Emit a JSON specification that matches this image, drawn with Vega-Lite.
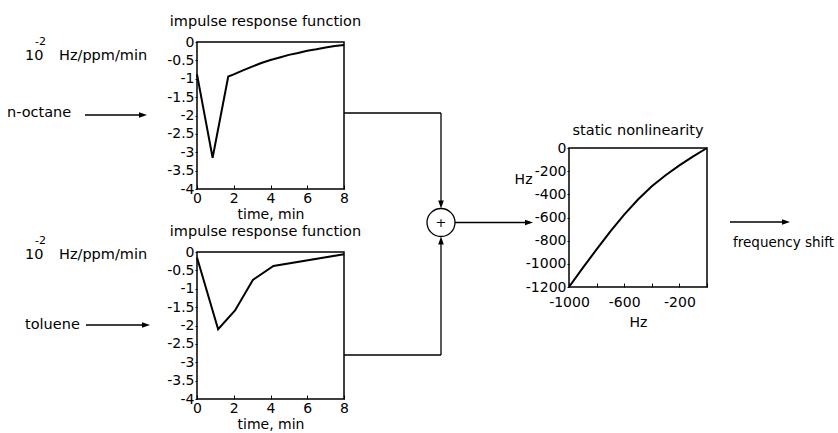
{
  "$schema": "https://vega.github.io/schema/vega-lite/v6.json",
  "padding": {"left": 0, "top": 12, "right": 0, "bottom": 0},
  "bounds": "flush",
  "align": "none",
  "columns": 5,
  "spacing": {"row": 63, "column": 0},
  "config": {
    "font": "DejaVu Sans",
    "view": {"stroke": null},
    "axis": {"grid": false, "domain": false, "labelFontSize": 14, "titleFontSize": 14, "titleFontWeight": "normal", "labelColor": "black", "titleColor": "black", "tickColor": "black", "labelFont": "DejaVu Sans", "titleFont": "DejaVu Sans", "labelFlush": false, "labelOverlap": false},
    "title": {"fontSize": 14.5, "fontWeight": "normal", "color": "black", "font": "DejaVu Sans"}
  },
  "concat": [
    {
      "width": 197, "height": 147,
      "encoding": {
        "x": {"field": "x", "type": "quantitative", "scale": {"domain": [0, 197], "nice": false, "zero": false}, "axis": null},
        "y": {"field": "y", "type": "quantitative", "scale": {"domain": [0, 147], "nice": false, "zero": false, "reverse": true}, "axis": null}
      },
      "layer": [
        {
          "data": {"values": [
            {"x": 25, "y": 14, "s": "10"},
            {"x": 59, "y": 14, "s": "Hz/ppm/min"},
            {"x": 7, "y": 71, "s": "n-octane"}
          ]},
          "mark": {"type": "text", "align": "left", "baseline": "middle", "fontSize": 14.5, "color": "black"},
          "encoding": {"text": {"field": "s"}}
        },
        {
          "data": {"values": [{"x": 35, "y": 0, "s": "-2"}]},
          "mark": {"type": "text", "align": "left", "baseline": "middle", "fontSize": 11, "color": "black"},
          "encoding": {"text": {"field": "s"}}
        },
        {
          "data": {"values": [{"x": 85, "x2": 144, "y": 73}]},
          "mark": {"type": "rule", "color": "black", "strokeWidth": 1.3},
          "encoding": {"x2": {"field": "x2"}}
        },
        {
          "data": {"values": [{"x": 143, "y": 73}]},
          "mark": {"type": "point", "filled": true, "color": "black", "opacity": 1, "size": 64, "shape": "M-1,-0.7L1,0L-1,0.7Z"}
        }
      ]
    },
    {
      "width": 147, "height": 147,
      "view": {"stroke": "black", "strokeWidth": 1.5},
      "title": {"text": "impulse response function", "offset": 6, "dx": -5},
      "data": {"values": [
        {"t": 0, "h": -0.88}, {"t": 0.85, "h": -3.15}, {"t": 1.7, "h": -0.94}, {"t": 2, "h": -0.88},
        {"t": 2.5, "h": -0.77}, {"t": 3, "h": -0.67}, {"t": 3.5, "h": -0.57}, {"t": 4, "h": -0.49},
        {"t": 4.5, "h": -0.42}, {"t": 5, "h": -0.35}, {"t": 5.5, "h": -0.3}, {"t": 6, "h": -0.24},
        {"t": 6.5, "h": -0.2}, {"t": 7, "h": -0.15}, {"t": 7.5, "h": -0.11}, {"t": 8, "h": -0.08}
      ]},
      "mark": {"type": "line", "color": "black", "strokeWidth": 2},
      "encoding": {
        "x": {"field": "t", "type": "quantitative", "scale": {"domain": [0, 8], "nice": false, "zero": false},
              "axis": {"values": [0, 2, 4, 6, 8], "title": "time, min", "tickSize": -4, "labelPadding": 6, "titlePadding": 2}},
        "y": {"field": "h", "type": "quantitative", "scale": {"domain": [-4, 0], "nice": false, "zero": false},
              "axis": {"values": [-4, -3.5, -3, -2.5, -2, -1.5, -1, -0.5, 0], "labelExpr": "'' + datum.value", "title": null, "tickSize": 2, "labelPadding": 1}}
      }
    },
    {
      "width": 225, "height": 147,
      "encoding": {
        "x": {"field": "x", "type": "quantitative", "scale": {"domain": [0, 225], "nice": false, "zero": false}, "axis": null},
        "y": {"field": "y", "type": "quantitative", "scale": {"domain": [0, 147], "nice": false, "zero": false, "reverse": true}, "axis": null}
      },
      "layer": [
        {
          "data": {"values": [
            {"x": 0, "y": 71, "x2": 97, "y2": 71},
            {"x": 97, "y": 71, "x2": 97, "y2": 163},
            {"x": 0, "y": 313, "x2": 97, "y2": 313},
            {"x": 97, "y": 313, "x2": 97, "y2": 198},
            {"x": 111, "y": 180.5, "x2": 186, "y2": 180.5}
          ]},
          "mark": {"type": "rule", "color": "black", "strokeWidth": 1.3},
          "encoding": {"x2": {"field": "x2"}, "y2": {"field": "y2"}}
        },
        {
          "data": {"values": [
            {"x": 97, "y": 162.5, "dir": "d"},
            {"x": 97, "y": 198.5, "dir": "u"},
            {"x": 185, "y": 180.5, "dir": "r"}
          ]},
          "mark": {"type": "point", "filled": true, "color": "black", "opacity": 1, "size": 64},
          "encoding": {"shape": {"field": "dir", "type": "nominal", "scale": {"domain": ["r", "d", "u"], "range": ["M-1,-0.7L1,0L-1,0.7Z", "M-0.7,-1L0.7,-1L0,1Z", "M-0.7,1L0.7,1L0,-1Z"]}, "legend": null}}
        },
        {
          "data": {"values": [{"x": 97, "y": 180.5}]},
          "mark": {"type": "point", "shape": "circle", "filled": false, "color": "black", "opacity": 1, "size": 784, "strokeWidth": 1.3}
        },
        {
          "data": {"values": [{"x": 97, "y": 180.5, "s": "+"}]},
          "mark": {"type": "text", "align": "center", "baseline": "middle", "fontSize": 13, "color": "black"},
          "encoding": {"text": {"field": "s"}}
        }
      ]
    },
    {
      "width": 138, "height": 147,
      "encoding": {
        "x": {"field": "u", "type": "quantitative", "scale": {"domain": [-1000, 0], "nice": false, "zero": false},
              "axis": {"values": [-1000, -800, -600, -400, -200, 0], "labelExpr": "datum.value == -1000 || datum.value == -600 || datum.value == -200 ? '' + datum.value : ''", "title": "Hz", "tickSize": -4, "labelPadding": 12, "titlePadding": 6, "offset": 98}},
        "y": {"field": "v", "type": "quantitative", "scale": {"domain": [-1200, 0], "nice": false, "zero": false, "range": [245, 106]},
              "axis": {"values": [-1200, -1000, -800, -600, -400, -200, 0], "labelExpr": "'' + datum.value", "title": "Hz", "titleAngle": 0, "titleAlign": "right", "titleBaseline": "middle", "titleX": -37, "titleY": 137, "tickSize": 2, "labelPadding": 1}}
      },
      "layer": [
        {
          "data": {"values": [
            {"u": -1000, "v": -1200}, {"u": -900, "v": -1035}, {"u": -800, "v": -875}, {"u": -700, "v": -720},
            {"u": -600, "v": -575}, {"u": -500, "v": -445}, {"u": -400, "v": -330}, {"u": -300, "v": -235},
            {"u": -200, "v": -150}, {"u": -100, "v": -72}, {"u": 0, "v": 0}
          ]},
          "mark": {"type": "line", "color": "black", "strokeWidth": 2}
        },
        {
          "data": {"values": [{"u": -1000, "u2": 0, "v": -1200, "v2": 0}]},
          "mark": {"type": "rect", "filled": false, "stroke": "black", "strokeWidth": 1.5},
          "encoding": {"x2": {"field": "u2"}, "y2": {"field": "v2"}}
        },
        {
          "data": {"values": [{"u": -500, "v": 0, "s": "static nonlinearity"}]},
          "mark": {"type": "text", "align": "center", "baseline": "alphabetic", "dy": -13, "fontSize": 14.5, "color": "black"},
          "encoding": {"text": {"field": "s"}}
        }
      ]
    },
    {
      "width": 131, "height": 147,
      "encoding": {
        "x": {"field": "x", "type": "quantitative", "scale": {"domain": [0, 131], "nice": false, "zero": false}, "axis": null},
        "y": {"field": "y", "type": "quantitative", "scale": {"domain": [0, 147], "nice": false, "zero": false, "reverse": true}, "axis": null}
      },
      "layer": [
        {
          "data": {"values": [{"x": 23, "x2": 80, "y": 180}]},
          "mark": {"type": "rule", "color": "black", "strokeWidth": 1.3},
          "encoding": {"x2": {"field": "x2"}}
        },
        {
          "data": {"values": [{"x": 79, "y": 180}]},
          "mark": {"type": "point", "filled": true, "color": "black", "opacity": 1, "size": 64, "shape": "M-1,-0.7L1,0L-1,0.7Z"}
        },
        {
          "data": {"values": [{"x": 26, "y": 205, "s": "frequency shift"}]},
          "mark": {"type": "text", "align": "left", "baseline": "alphabetic", "fontSize": 13.5, "color": "black"},
          "encoding": {"text": {"field": "s"}}
        }
      ]
    },
    {
      "width": 197, "height": 147,
      "encoding": {
        "x": {"field": "x", "type": "quantitative", "scale": {"domain": [0, 197], "nice": false, "zero": false}, "axis": null},
        "y": {"field": "y", "type": "quantitative", "scale": {"domain": [0, 147], "nice": false, "zero": false, "reverse": true}, "axis": null}
      },
      "layer": [
        {
          "data": {"values": [
            {"x": 25, "y": 3, "s": "10"},
            {"x": 59, "y": 3, "s": "Hz/ppm/min"},
            {"x": 25, "y": 73, "s": "toluene"}
          ]},
          "mark": {"type": "text", "align": "left", "baseline": "middle", "fontSize": 14.5, "color": "black"},
          "encoding": {"text": {"field": "s"}}
        },
        {
          "data": {"values": [{"x": 35, "y": -11, "s": "-2"}]},
          "mark": {"type": "text", "align": "left", "baseline": "middle", "fontSize": 11, "color": "black"},
          "encoding": {"text": {"field": "s"}}
        },
        {
          "data": {"values": [{"x": 86, "x2": 147, "y": 73}]},
          "mark": {"type": "rule", "color": "black", "strokeWidth": 1.3},
          "encoding": {"x2": {"field": "x2"}}
        },
        {
          "data": {"values": [{"x": 146, "y": 73}]},
          "mark": {"type": "point", "filled": true, "color": "black", "opacity": 1, "size": 64, "shape": "M-1,-0.7L1,0L-1,0.7Z"}
        }
      ]
    },
    {
      "width": 147, "height": 147,
      "view": {"stroke": "black", "strokeWidth": 1.5},
      "title": {"text": "impulse response function", "offset": 6, "dx": -5},
      "data": {"values": [
        {"t": 0, "h": -0.15}, {"t": 1.15, "h": -2.1}, {"t": 2.07, "h": -1.59},
        {"t": 3.04, "h": -0.76}, {"t": 4.16, "h": -0.38}, {"t": 8, "h": -0.06}
      ]},
      "mark": {"type": "line", "color": "black", "strokeWidth": 2},
      "encoding": {
        "x": {"field": "t", "type": "quantitative", "scale": {"domain": [0, 8], "nice": false, "zero": false},
              "axis": {"values": [0, 2, 4, 6, 8], "title": "time, min", "tickSize": -4, "labelPadding": 6, "titlePadding": 2}},
        "y": {"field": "h", "type": "quantitative", "scale": {"domain": [-4, 0], "nice": false, "zero": false},
              "axis": {"values": [-4, -3.5, -3, -2.5, -2, -1.5, -1, -0.5, 0], "labelExpr": "'' + datum.value", "title": null, "tickSize": 2, "labelPadding": 1}}
      }
    },
    {"width": 225, "height": 1, "data": {"values": []}, "mark": "point"},
    {"width": 138, "height": 1, "data": {"values": []}, "mark": "point"},
    {"width": 131, "height": 1, "data": {"values": []}, "mark": "point"}
  ]
}
